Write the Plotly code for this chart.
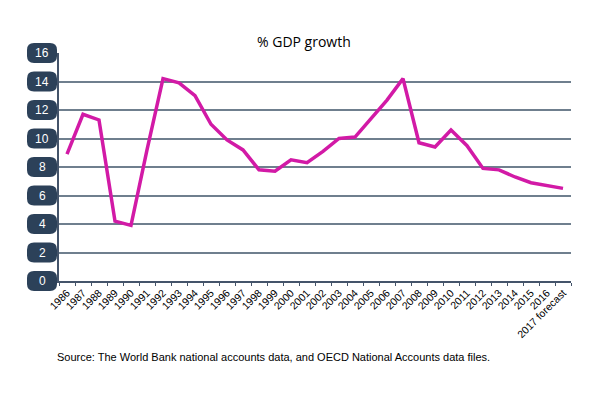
import plotly.graph_objects as go

years = ["1986", "1987", "1988", "1989", "1990", "1991", "1992", "1993", "1994", "1995",
         "1996", "1997", "1998", "1999", "2000", "2001", "2002", "2003", "2004", "2005",
         "2006", "2007", "2008", "2009", "2010", "2011", "2012", "2013", "2014", "2015",
         "2016", "2017 forecast"]
growth = [8.9, 11.7, 11.3, 4.2, 3.9, 9.2, 14.2, 13.9, 13.0, 11.0,
          9.9, 9.2, 7.8, 7.7, 8.5, 8.3, 9.1, 10.0, 10.1, 11.4,
          12.7, 14.2, 9.7, 9.4, 10.6, 9.5, 7.9, 7.8, 7.3, 6.9,
          6.7, 6.5]
y_ticks = [0, 2, 4, 6, 8, 10, 12, 14, 16]

# page offset from default body margin
OFF = 8
PAGE_W, PAGE_H = 597, 399
W, H = PAGE_W - OFF, PAGE_H - OFF
# plot area in page pixels
PL, PR, PT, PB = 59, 571, 53, 281
PW, PH = PR - PL, PB - PT
ML, MR, MT, MB = PL - OFF, PAGE_W - PR, PT - OFF, PAGE_H - PB
navy = "#2c4159"
axis_col = "#44546a"


def px(x):
    return (x - PL) / PW


def py(y):
    return 1 - (y - PT) / PH


fig = go.Figure()
fig.add_trace(go.Scatter(x=years, y=growth, mode="lines",
                         line=dict(color="#d21aa6", width=3.5), hoverinfo="skip"))

shapes = []
annotations = []
bw, bh, r = 30, 20, 7
cx = 42
for t in y_ticks:
    cy = PT + PH * (1 - t / 16)
    x0, x1 = cx - bw / 2, cx + bw / 2
    y0, y1 = cy - bh / 2, cy + bh / 2
    path = (f"M {px(x0 + r)} {py(y0)} L {px(x1 - r)} {py(y0)} "
            f"Q {px(x1)} {py(y0)} {px(x1)} {py(y0 + r)} L {px(x1)} {py(y1 - r)} "
            f"Q {px(x1)} {py(y1)} {px(x1 - r)} {py(y1)} L {px(x0 + r)} {py(y1)} "
            f"Q {px(x0)} {py(y1)} {px(x0)} {py(y1 - r)} L {px(x0)} {py(y0 + r)} "
            f"Q {px(x0)} {py(y0)} {px(x0 + r)} {py(y0)} Z")
    shapes.append(dict(type="path", path=path, xref="paper", yref="paper",
                       fillcolor=navy, line=dict(width=0), layer="above"))
    annotations.append(dict(x=px(cx), y=t, xref="paper", yref="y", text=str(t),
                            showarrow=False, xanchor="center", yanchor="middle",
                            font=dict(family="Liberation Sans, Arial", size=12, color="white")))
    shapes.append(dict(type="line", xref="paper", yref="y", x0=px(x1), x1=0, y0=t, y1=t,
                       line=dict(color=axis_col, width=1)))

annotations.append(dict(x=px(304), y=py(41), xref="paper", yref="paper",
                        text="% GDP growth", showarrow=False, xanchor="center", yanchor="middle",
                        font=dict(family="Open Sans, Noto Sans", size=14, color="black")))
annotations.append(dict(x=px(55), y=py(357), xref="paper", yref="paper",
                        text="Source: The World Bank national accounts data, and OECD National Accounts data files.",
                        showarrow=False, xanchor="left", yanchor="middle",
                        font=dict(family="Liberation Sans, Arial", size=11, color="black")))

fig.update_layout(
    width=W, height=H,
    margin=dict(l=ML, r=MR, t=MT, b=MB, pad=0, autoexpand=False),
    paper_bgcolor="white", plot_bgcolor="white",
    showlegend=False,
    shapes=shapes, annotations=annotations,
    xaxis=dict(type="category", tickangle=-45, tickson="boundaries", ticks="outside",
               ticklen=3, tickcolor=axis_col, showline=True, linecolor=axis_col, linewidth=1.5,
               showgrid=False, automargin=False,
               tickfont=dict(family="Liberation Sans, Arial", size=10.5, color="black"),
               range=[-0.5, len(years) - 0.5], fixedrange=True),
    yaxis=dict(range=[0, 16], tickvals=y_ticks, showticklabels=False, ticks="",
               showgrid=True, gridcolor="#6f7f8e", gridwidth=1.5, zeroline=False,
               automargin=False,
               showline=True, linecolor=axis_col, linewidth=1.5, fixedrange=True),
)

fig.write_html("out.html")
